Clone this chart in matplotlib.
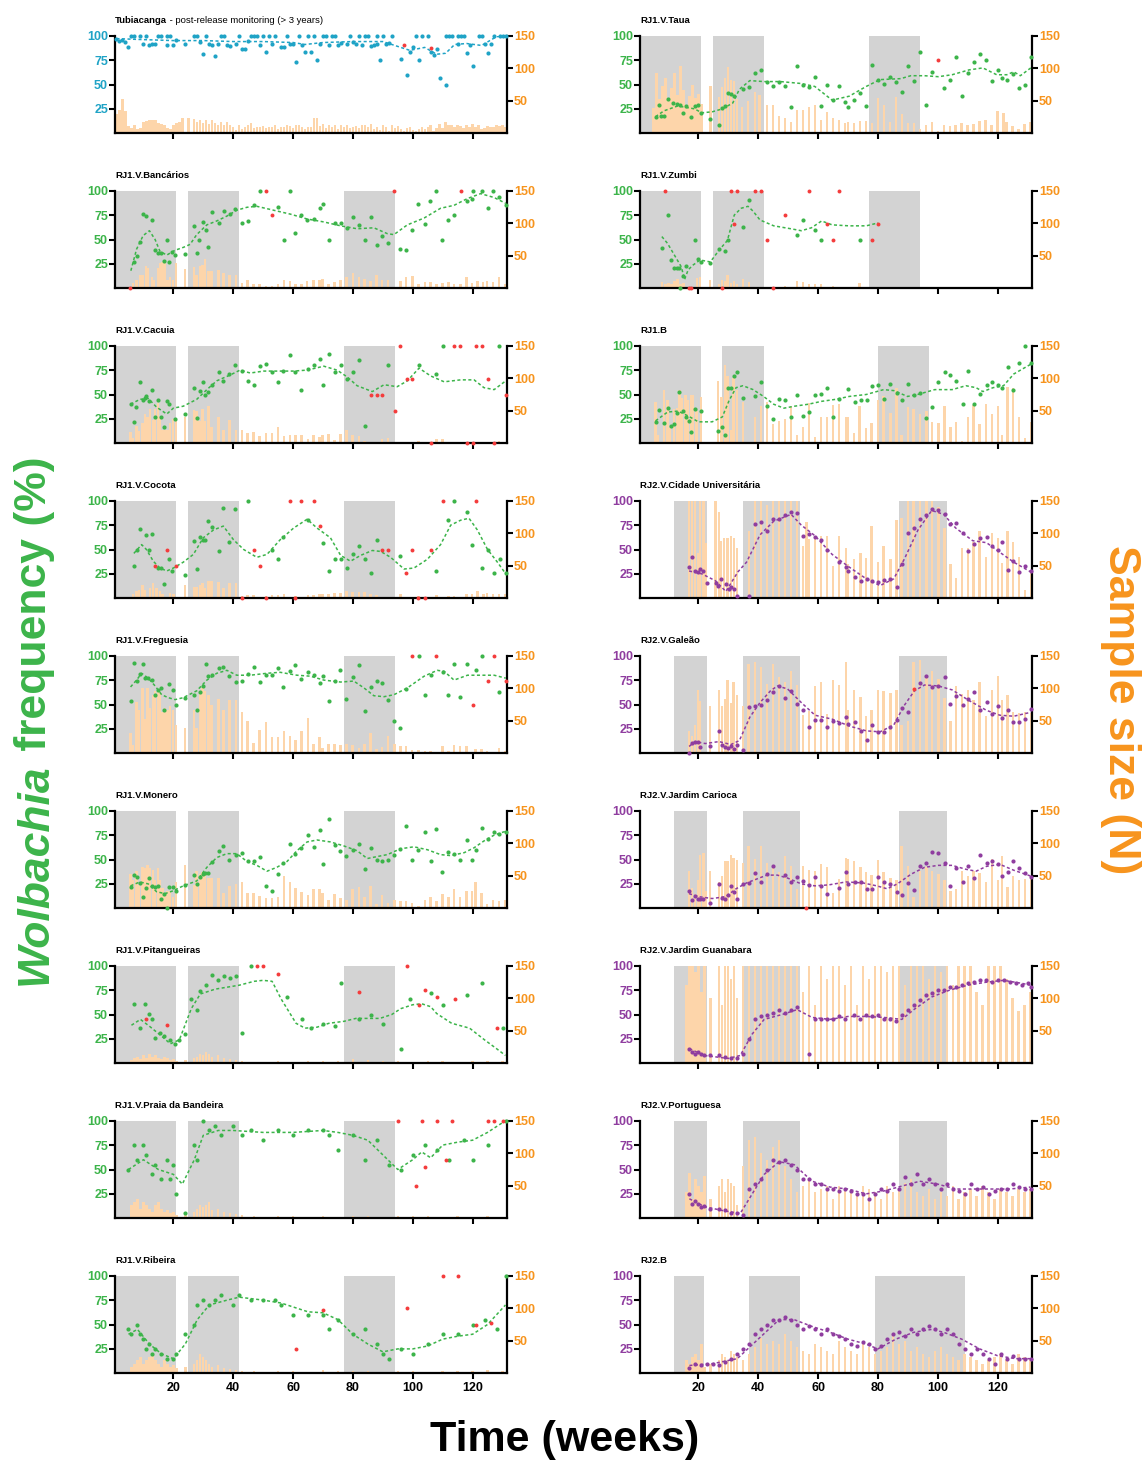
import matplotlib.pyplot as plt

plt.rcParams['font.family'] = ['Liberation Sans', 'DejaVu Sans']

# ---------------- data (weeks, Wolbachia %, sample size N) ----------------
# Tubiacanga
tub_wk = [1,2,3,4,5,6,7,9,10,11,12,13,14,15,16,18,18,19,20,21,24,27,28,29,30,31,32,33,34,35,
          36,37,38,39,41,42,43,44,45,46,47,48,49,50,51,52,53,54,56,57,58,59,60,61,62,63,64,65,66,67,
          68,69,70,71,72,73,74,75,76,78,79,80,81,82,83,84,85,86,87,88,88,89,90,91,92,93,96,98,99,100,
          101,102,103,105,106,107,108,109,111,111,112,113,115,115,116,117,118,119,120,122,123,124,125,126,127,129,130,131]
tub_freq = [97,95,96,94,88,100,100,100,92,100,90,91,92,100,100,100,90,100,90,96,91,100,100,94,81,100,92,90,79,92,
            100,100,90,89,92,100,86,86,95,100,100,100,90,100,83,100,92,100,88,88,100,92,92,73,100,90,83,100,83,100,
            75,91,100,100,90,100,100,90,93,91,100,94,92,100,90,100,100,89,90,100,92,75,100,92,93,100,76,60,83,88,
            100,75,100,100,83,80,86,57,100,50,100,100,100,92,100,100,82,90,69,100,100,91,82,92,100,100,100,100]
tub_red_wk = [97, 106]
tub_red_freq = [90, 87]
tub_bar_wk = list(range(1, 132))
tub_n = [29,36,53,34,11,8,13,6,8,18, 19,20,21,21,16,15,12,8,6,13, 16,18,24,0,23,0,22,18,20,16,
         20,14,21,16,12,18,13,17,13,9, 5,12,6,9,13,16,8,10,9,11, 8,10,9,12,7,9,10,12,11,8,
         13,12,9,7,10,9,24,23,11,15, 8,13,9,12,6,13,10,12,8,9, 11,8,12,13,9,14,7,10,5,12,
         9,4,13,8,11,6,3,8,10,5, 4,6,9,7,10,12,3,8,14,8, 17,13,12,10,13,11,8,12,10,15,
         9,12,7,8,11,10,10,12,11,12,10]
tub_fit_wk = [1,10,20,30,40,50,60,64,70,80,90,96,99,104,108,111,114,118,123,128,131]
tub_fit = [97,96,95,95,94,94,93,91,93,94,94,88,85,88,81,82,91,92,90,99,100]

# RJ1.V.Taua
taua_wk = [6,7,7.5,8.5,10,11.5,13,14,15,16,17.5,19,20,21,24,27,28,29,30,31,32,35,37,39,41,43,45,47,49,51,
           53,55,57,59,61,63,65,67,69,70,72,74,76,78,80,82,84,86,88,90,92,94,96,98,102,104,106,108,110,112,
           114,116,118,120,121.5,123,125,127,129,131]
taua_freq = [17,29,18,18,35,31,30,29,21,28,17,28,29,21,15,8,26,28,41,40,38,45,47,62,65,53,48,53,48,27,
             69,49,47,58,28,50,34,48,32,27,34,41,28,70,55,51,58,53,42,69,54,83,29,63,46,55,78,38,62,73,
             81,75,54,65,57,55,61,46,50,78]
taua_red_wk = [100]
taua_red_freq = [75]
taua_bar_wk = [5,6,7,8,9,10,11,12,13,14,15,16,17,18,19,20,21,24,27,28,29,30,31,32,33,
               34.5,36.5,39,40.5,43,45,47,49,51,53,55,57,59,61,63,65,67,69,70,72,74,76,78,80,82,84,86,88,90,92,
               94,96,98,100,102,104,106,108,110,112,114,116,118,120,122,123,125,127,129,131]
taua_n = [39,93,52,72,85,54,69,92,59,104,67,42,57,75,54,60,45,72,56,71,85,102,82,80,52,
          41,49,64,59,44,44,27,23,18,36,36,41,43,21,33,23,21,16,18,16,19,19,16,54,44,18,56,30,16,16,
          6,13,18,3,12,11,12,16,12,14,19,21,13,35,31,17,11,7,14,17]
taua_fit_wk = [5.7,8.5,13.1,18.8,21.1,24.6,28,31.5,33.7,37.2,41.8,47.5,54.4,58.9,64.7,70.4,76.1,80.7,87.6,91,
               95.6,100.2,104.8,110.5,115.1,119.7,123.1,125.4,127.6,131.1]
taua_fit = [17,23,28,25,21,22,25,31,45,54,53,53,51,48,34,38,48,55,56,59,59,58,60,65,67,60,60,63,59,67]

# RJ1.V.Bancarios
bk_wk = [6.8,7.7,8.8,9.7,10.8,12.8,13.9,15,15.8,16.9,17.8,18.7,19.4,20.6,23.9,26.9,27.8,28.7,29.8,31,
         31.7,32.9,35.1,36.8,38.8,40.7,42.9,44.8,46.8,48.8,55,56.9,58.9,60.8,62.8,64.8,67,68.9,69.9,71.9,
         73.9,75.9,77.9,80,82,83.9,85.9,87.9,89.8,91.8,95.9,97.8,99.9,101.9,104.1,105.9,107.8,109.9,111.9,113.8,
         118,119.9,120,123,125,126.9,128.9,131]
bk_freq = [27,33,47,76,74,70,39,36,36,28,50,27,37,34,35,64,36,49,68,60,42,78,67,79,76,81,67,69,85,100,
           83,50,100,57,75,70,71,82,86,50,67,67,62,73,65,50,73,44,54,46,40,39,60,86,66,89,100,50,70,75,
           89,91,100,100,82,100,94,85]
bk_red_wk = [5.5,51,53,93.9,116]
bk_red_freq = [0,100,75,100,100]
bk_bar_wk = [6.5,7.7,8.8,9.7,10.8,11.6,12.8,13.6,14.8,15.6,16.4,17.2,18,18.9,19.8,20.9,23.9,26.9,27.8,28.9,
             29.7,30.6,31.7,32.8,35.1,36.8,38.8,40.9,42.9,44.8,46.8,48.8,51,53,55,56.9,58.9,60.8,62.8,64.7,
             66.9,68.9,69.9,71.9,73.9,75.8,77.8,80,82,83.9,85.9,87.9,89.8,91.8,95.9,97.8,99.9,101.9,104.1,106,
             107.9,109.9,111.9,113.8,116,118,119.9,121.6,123.5,124.9,126.9,128.9,131]
bk_n = [8,13,21,21,34,31,18,13,31,39,41,39,13,18,13,39,29,32,21,34,36,45,27,27,28,23,21,21,8,12,
        7,7,3,3,7,13,11,7,7,11,13,12,14,6,10,12,17,24,17,14,11,21,12,12,11,18,19,7,10,10,
        6,8,10,7,6,17,8,11,10,11,10,17,7]
bk_fit_wk = [5.8,7.7,9.9,12,13.9,15.5,17.8,19.4,20.6,23.4,25.6,27.8,31.2,34.5,37.9,41.2,44.6,47.9,53.5,59.1,
             64.7,70.3,75.9,81.4,87,91.5,93.7,98.2,103.8,109.3,113.8,118.3,122.7,127.2,131.1]
bk_fit = [18,40,54,59,50,38,34,37,39,42,45,55,65,69,74,80,83,84,80,76,71,68,64,61,62,56,55,65,72,82,85,92,97,93,87]

# RJ1.V.Zumbi
zb_wk = [7.8,9.9,10.9,11.8,12.8,13.7,14.9,15.8,14,18.9,20,21,23.8,26.9,29,29.8,34.9,36.9,53,55,59,61,73.9]
zb_freq = [41,75,29,21,21,21,13,23,0,50,30,27,26,40,38,50,63,90,55,70,60,50,50]
zb_red_wk = [8.9,16.8,17.7,28,30.9,31.8,33,38.9,40.8,42.9,45,48.9,57,63,65,67,77.9,79.9]
zb_red_freq = [100,0,0,0,100,66,100,100,100,50,0,75,100,66,50,100,50,66]
zb_bar_wk = [7.8,9,10,11,12,13,14,15,19.5,20.6,23.8,26.9,28,29,29.8,31,32,33,35,37,48.9,53,55,57,59,61,65,73.9]
zb_n = [10,7,8,7,11,15,7,8,16,17,12,7,13,11,20,8,11,7,15,10,3,11,10,7,7,6,4,8]
zb_fit_wk = [7.8,9.7,12,14.3,15.4,16.6,18.3,20.6,24,26.9,29.7,32,34.3,36.6,38.3,40.6,45.2,50.9,54.4,57.8,
             61.2,64.7,70.4,76.1,80.1]
zb_fit = [53,46,34,22,9,19,24,29,27,39,49,75,82,84,79,70,64,61,59,62,69,65,64,64,67]

# RJ1.V.Cacuia
cc_wk = [5.7,6.8,7.6,8.8,9.7,10.5,11,12,12.7,13.9,15,15.8,16.9,17.8,18.7,20.6,23.9,27.8,26.9,28.9,
         29.8,30.6,31.7,32.8,35.1,36.7,38.7,40.7,42.9,44.8,46.8,48.8,50.9,53,55,56.8,58.9,60.8,62.8,65,
         67,70,69,71.9,73.9,75.9,77.9,80,82,83.9,91.8,102,107.9,110,128.9]
cc_freq = [40,22,37,63,44,46,48,43,55,27,44,27,17,43,40,25,30,26,57,54,63,50,53,60,73,64,71,80,74,64,
           60,79,81,73,63,74,90,73,55,76,80,60,86,91,73,80,66,73,85,18,80,80,71,100,100]
cc_red_wk = [86,87.9,89.8,94,95.9,98,99.9,106,113.8,115.8,118,120,121,123,125,127,131]
cc_red_freq = [50,50,50,33,100,66,66,0,100,100,0,0,100,100,66,0,50]
cc_bar_wk = [5.7,6.6,7.7,8.6,9.7,10.5,11.3,12.2,13.1,13.9,14.8,15.5,16.4,17.3,18,18.9,19.8,20.9,23.9,26.9,
             27.8,28.7,29.7,30.6,31.7,32.8,35.1,36.7,38.8,40.9,42.9,44.8,46.8,48.8,50.9,52.9,54.9,56.9,58.9,60.8,
             62.8,64.9,66.9,68.9,69.9,71.9,73.9,75.8,77.8,79.9,82,83.9,85.9,87.9,89.8,91.8,101.9,107.9,109.9,128.9]
cc_n = [18,8,26,19,31,45,41,52,36,52,62,41,21,21,21,31,37,34,41,51,50,34,52,34,58,25,41,21,36,21,
        21,16,18,11,16,16,25,11,12,13,12,6,13,10,12,14,5,14,21,12,11,4,2,2,6,8,4,6,6,4]
cc_fit_wk = [5.7,8.8,11.6,14.4,17.8,20,23.3,27.8,31.2,34.5,39,42.3,45.7,50.2,55.7,60.2,64.7,70.3,74.7,78.1,
             81.4,86.5,90.4,94.8,98.2,102.1,106,110.5,116,120.5,123.8,127.2,131.1]
cc_fit = [40,45,46,37,30,36,38,45,55,64,70,75,72,74,74,74,75,79,75,68,59,53,60,58,64,77,69,63,65,65,57,55,64]

# RJ1.B
b1_wk = [5.7,6.9,8.6,9.7,10.7,11.8,13,13.7,14.9,16,16.9,17.7,18.9,21,26.7,27.8,29,29.8,30.9,31.8,
         33,34.9,38.9,40.8,42.9,45,47,48.9,51,53,55,56.9,59,61,63,65,67,70,72.2,74.2,
         76.2,77.9,80.2,81.9,84.2,86.3,88,90.1,92,94.2,96.2,98.2,100.2,102.3,104.2,106.2,108.3,110.2,112,114,
         116.3,118.2,120.3,121.4,123.4,125.2,127.1,129.2,131.2]
b1_freq = [22,34,21,36,18,20,31,53,33,27,23,12,35,33,13,17,8,57,57,69,73,46,48,63,38,25,45,44,27,50,
           28,32,50,51,57,27,45,56,42,44,44,59,60,45,61,52,44,61,50,52,26,37,63,73,70,64,40,74,40,51,
           60,63,60,57,78,55,82,100,82]
b1_red_wk = []
b1_red_freq = []
b1_bar_wk = [5.7,6.6,8.5,9.7,10.6,11.8,12.8,13.7,14.5,15.7,16.6,17.5,18.3,19.4,20.9,26.6,27.8,28.9,29.7,30.9,
             31.8,33,34.9,38.9,40.9,42.9,45,46.9,48.9,50.9,53,54.9,56.9,58.9,60.9,63,64.9,67,69.3,70,
             72.1,73.8,76.1,77.9,80.1,81.9,84.2,86.2,87.9,90.1,91.9,94.1,96.2,98.1,100.2,102.2,104.2,106.1,108.2,110.1,
             112,114,116.2,118.2,120.2,121.4,123.3,125.2,127.1,129.2,131.1]
b1_n = [64,12,82,67,23,52,54,82,69,75,67,75,75,49,71,96,71,120,104,21,101,82,63,40,57,64,29,35,38,58,
        12,25,62,10,40,40,59,61,40,40,16,57,23,31,67,72,47,85,12,56,53,45,49,32,31,58,25,33,4,41,
        59,29,60,45,57,13,86,85,40,8,32]
b1_fit_wk = [5.7,9.7,13.2,16.6,20,24.6,28,30.3,32.6,34.9,38.3,41.8,45.2,48.6,52.1,56.7,61.2,65.8,70.4,76.1,
             81.9,85.3,89.9,93.3,99,104.8,109.4,112.8,115.1,118.5,122,125.4,128.8,131.1]
b1_fit = [23,32,33,28,22,22,27,44,57,59,55,48,40,36,38,40,43,45,48,50,55,54,48,50,55,55,59,57,53,57,59,71,77,81]

# RJ1.V.Cocota
co_wk = [6.8,7.7,8.8,10.8,12.7,12,15,15.8,16.9,18.7,19.4,23.9,26.9,27.8,28.9,29.8,30.6,31.7,32.8,35.1,
         36.7,38.7,40.7,44.8,53,55,56.8,65,69.9,72,73.9,75.9,77.9,80,82,83.9,85.9,87.9,95.9,107.9,
         111.9,113.8,118,119.9,123,125,127,129,131]
co_freq = [33,50,71,65,66,50,31,31,15,40,28,24,59,30,63,60,60,79,73,48,93,58,92,100,50,40,63,80,57,28,
           40,40,31,45,54,40,26,60,43,28,80,100,88,55,31,50,26,40,26]
co_red_wk = [13.9,17.8,20.9,46.8,48.8,58.9,62.8,66.9,68.9,89.8,91.8,97.8,99.8,106,110,121,42.9,50.9,60.7,101.9,104.1]
co_red_freq = [33,50,33,50,33,100,100,100,74,50,50,26,50,50,100,100,0,0,0,0,0]
co_bar_wk = [6.6,7.7,8.6,9.7,10.5,12.2,13.3,14.4,15.5,16.4,18.9,20,23.9,26.9,27.8,28.9,29.7,30.6,31.7,32.8,
             35.1,36.7,38.8,40.9,42.9,44.8,46.8,50.9,52.9,54.9,56.9,60.8,64.9,66.9,68.9,69.9,71.9,73.9,75.8,77.8,
             79.9,82,83.9,85.9,87.9,95.9,101.9,107.9,109.9,111.9,113.8,118,119.9,121.6,123.6,124.9,126.9,128.9,131]
co_n = [7,11,13,21,13,16,24,16,11,6,8,6,21,17,18,21,24,16,27,27,25,16,24,24,3,5,5,3,5,5,
        7,3,5,5,7,7,6,8,8,11,9,10,9,7,5,6,3,5,2,4,4,7,7,11,7,8,6,6,7]
co_fit_wk = [6.8,9.4,11,13.3,15.5,17.8,20,23.3,26.7,30,33.4,36.7,40.1,43.5,47.9,51.3,55.7,60.2,64.7,68,
             72.5,75.9,79.2,82.6,86.5,89.3,92.6,97.1,100.4,104.9,109.3,112.7,116,118.8,121.6,125,128.3,131.1]
co_fit = [46,55,50,38,31,28,31,37,45,62,70,74,60,50,42,45,60,72,81,72,62,44,38,44,49,48,42,30,31,40,55,75,80,82,70,50,37,25]

# RJ2.V.Cidade Universitaria
cu_wk = [17,18,18.9,19.8,20.6,21.7,22.9,25.8,26.7,27.5,29.2,30.1,30.9,32,33,37,38.9,40.8,42.9,45,
         47,48.9,50.9,53,54.9,56.9,59,60.9,62.9,67,69.3,70.1,72.2,74.2,76.2,77.9,80.2,81.9,84.2,86.3,
         88,90.1,92,94.2,96.2,98.2,100.2,102.3,104.2,106.2,108.3,110.2,112,114,116.3,118.2,120.3,121.4,123.4,125.2,
         127.1,129.2,131.2]
cu_freq = [32,42,28,27,30,28,16,16,13,20,15,10,12,10,2,2,76,78,69,81,81,85,88,87,64,66,63,60,49,37,
           32,28,22,18,20,18,17,19,20,12,35,67,72,81,85,91,90,86,76,77,67,48,56,62,63,54,50,58,29,38,
           27,33,28]
cu_red_wk = []
cu_red_freq = []
cu_bar_wk = [16.9,17.9,18.9,19.8,20.6,21.7,22.6,25.7,26.9,27.5,28.6,29.7,30.9,32,32.9,36.9,38.9,40.9,42.9,45,
             46.9,48.9,50.9,53,54.9,56.1,56.9,58.9,60.9,63,64.9,67,69.3,70,72.1,74.2,76.1,77.9,80.1,81.9,
             84.2,86.2,87.9,90.1,91.9,94.1,96.2,98.1,100.2,102.2,104.2,106.1,108.2,110.1,112,114,116.2,118.2,120.2,121.4,
             123.3,125.2,127.1,129.2,131.1]
cu_n = [160,160,160,69,160,160,85,160,133,88,92,93,96,92,78,104,160,160,143,160,160,160,160,160,80,118,91,95,95,95,
        50,96,77,52,61,69,62,111,56,81,60,121,123,160,160,160,160,160,141,108,52,31,78,77,87,103,64,101,92,54,
        103,87,64,13,41]
cu_fit_wk = [16.9,21.2,25.7,29.2,33.2,36.1,40.6,45.2,51,54.4,59,64.7,70.4,76.1,80.7,85.3,88.8,93.4,98,102,
             106,111.7,116.3,120.8,125.4,131.1]
cu_fit = [28,25,18,7,27,37,65,79,86,75,64,45,32,20,13,20,40,70,90,86,72,59,57,47,37,27]

# RJ1.V.Freguesia
fr_wk = [5.7,6.8,7.7,8.8,9.7,10.5,11.6,12.7,13.9,15,15.8,16.9,18.7,19.8,20.9,23.9,26.9,27.8,28.9,29.8,
         30.8,31.7,32.8,35.1,36.7,38.7,40.9,42.9,44.8,46.8,48.8,50.9,52.9,54.9,56.8,58.9,60.8,62.8,64.9,66.9,
         68.9,69.9,71.9,73.9,75.8,77.8,79.9,82,83.9,85.9,87.9,89.8,91.8,93.9,95.9,97.8,102,104.1,106,110,
         111.9,113.8,115.8,118,121,123,128.9]
fr_freq = [54,93,74,81,91,77,77,75,60,65,67,44,71,65,49,57,60,44,63,69,91,79,80,87,88,79,73,74,81,88,
           73,80,80,87,68,84,90,76,83,80,72,79,54,74,85,56,78,90,43,68,74,72,55,33,26,66,100,60,80,83,
           60,92,58,91,85,100,63]
fr_red_wk = [99.8,107.9,120,125,127,131]
fr_red_freq = [100,100,50,74,100,74]
fr_bar_wk = [5.7,6.6,7.7,8.6,9.7,10.5,11.3,12.2,13.1,13.9,14.8,15.5,16.4,17.2,18,18.9,19.8,20.9,23.9,26.9,
             27.8,28.9,29.7,30.6,31.7,32.8,35.1,36.7,38.8,40.9,42.9,44.8,46.8,48.8,50.9,52.9,54.9,56.9,58.9,60.8,
             62.8,64.9,66.9,68.9,69.9,71.9,73.9,75.8,77.8,79.9,82,83.9,85.9,87.9,89.8,91.8,93.9,95.9,97.8,99.8,
             101.9,104.1,106,109.9,111.9,113.8,115.8,118,121,123,124.9,128.9,131]
fr_n = [31,13,79,67,100,52,100,69,90,95,94,94,64,69,67,72,67,44,39,67,39,95,100,95,90,75,83,67,82,82,
        64,49,16,36,48,25,25,34,26,21,34,54,15,25,8,14,14,13,15,12,8,14,31,6,10,26,14,11,11,5,
        5,3,3,11,3,12,11,11,6,6,3,8,3]
fr_fit_wk = [5.7,7.7,9.4,11.6,13.9,16.1,18.3,20.6,23.3,27.8,31.2,34.5,37.9,41.2,45.7,51.3,55.7,61.3,65.8,70.3,
             75.9,80.3,83.7,87,90.4,93.7,98.2,103.8,108.2,110.5,113.8,118.3,122.7,127.2,131.1]
fr_fit = [68,75,82,77,69,60,57,55,57,64,75,82,85,80,80,82,83,80,79,75,73,74,67,59,58,60,67,79,85,84,75,80,80,80,77]

# RJ2.V.Galeao
gl_wk = [17,18,18.9,19.8,20.6,23.8,26.9,28,29,29.8,30.9,31.8,33,34.9,36.9,38.9,40.8,42.9,45,47,
         48.9,51,53,55,56.9,59,60.9,63,65,67,69.3,70.1,72.2,74.2,76.2,77.9,80.2,81.9,84.2,86.3,
         88,90.1,94.2,96.2,98.2,100.2,102.3,104.2,106.2,108.3,110.2,112,114,116.3,118.2,120.3,121.4,123.4,125.2,127.1,
         129.2,131.2]
gl_freq = [0,11,12,12,6,7,23,8,6,5,7,4,9,3,47,48,49,55,63,69,57,64,51,44,27,34,34,27,33,31,
           37,30,32,23,14,29,22,22,27,34,46,42,72,79,68,69,78,51,59,49,56,63,44,53,40,48,36,44,32,32,
           35,45]
gl_red_wk = [92]
gl_red_freq = [66]
gl_bar_wk = [16.9,17.9,18.9,19.8,20.6,23.8,26.9,28,28.9,29.7,30.9,31.8,32.9,34.9,36.8,38.9,40.9,42.9,45,46.9,
             48.9,50.9,53,54.9,56.9,58.9,60.9,63,64.9,67,69.3,70,72.1,74.2,76.1,77.9,80.1,81.9,84.2,86.2,
             87.9,90.1,91.9,94.1,96.2,98.1,100.2,102.2,104.2,106.1,108.2,110.1,112,114,116.2,118.2,120.2,121.4,123.3,125.2,
             127.1,129.2,131.1]
gl_n = [35,27,44,98,80,73,97,72,83,113,78,109,90,73,138,140,132,107,138,118,109,126,105,59,65,104,109,60,112,105,
        140,67,97,86,58,67,98,95,92,98,43,50,141,143,120,126,114,85,50,103,91,98,82,110,58,97,119,82,90,63,
        62,63,62]
gl_fit_wk = [16.9,18.9,22.3,26.9,30.9,33.7,37.2,40.6,44.1,46.4,49.8,54.4,59,64.7,70.4,76.1,80.7,85.3,88.8,92.2,
             95.6,100.2,104.8,110.5,116.3,120.8,125.4,131.1]
gl_fit = [7,12,10,12,9,13,37,52,64,69,66,52,39,35,28,23,22,29,49,64,70,69,65,54,44,39,38,42]

# RJ1.V.Monero
mo_wk = [5.7,6.8,7.7,8.8,9.7,10.8,12,12.7,13.9,15,15.8,16.9,17.8,18.7,19.8,20.9,23.9,26.9,27.8,28.9,
         29.8,30.6,31.7,32.8,35.1,36.7,38.7,40.9,42.9,44.8,46.8,48.8,50.9,52.9,54.9,56.8,58.9,60.8,62.8,64.9,
         66.9,68.9,69.9,71.9,73.9,75.8,77.8,79.9,82,83.9,85.9,87.9,89.8,91.8,93.9,95.9,97.8,99.8,101.8,104.1,
         106,107.9,109.9,111.9,113.8,115.8,118,119.9,121,123,125,127,128.9,131]
mo_freq = [22,34,32,26,12,21,31,23,22,23,10,15,0,22,22,18,24,34,25,32,35,36,36,47,59,64,49,55,57,48,
           48,53,23,18,35,46,66,56,62,75,63,80,45,92,65,59,54,60,66,40,62,50,48,50,55,61,84,50,60,78,
           48,81,37,58,56,50,70,50,60,82,71,78,76,78]
mo_red_wk = []
mo_red_freq = []
mo_bar_wk = [5.7,6.6,7.7,8.6,9.7,10.5,11.3,12.2,13.1,13.9,14.8,15.5,16.4,17.3,18,18.9,19.8,20.9,23.9,26.9,
             27.8,28.9,29.7,30.6,31.7,32.8,35.1,36.7,38.8,40.9,42.9,44.8,46.8,48.8,50.9,52.9,54.9,56.9,58.9,60.8,
             62.8,64.9,66.9,68.9,69.9,71.9,73.9,75.8,77.8,79.9,82,83.9,85.9,87.9,89.8,91.8,93.9,95.9,97.8,99.8,
             101.9,104.1,106,107.9,109.9,111.9,113.8,115.8,118,119.9,121,123,124.9,126.9,128.9,131]
mo_n = [52,44,58,36,64,62,67,62,59,44,62,44,31,21,26,26,18,41,66,36,58,52,56,54,46,46,46,23,34,37,
        41,23,23,19,16,16,18,49,41,31,25,21,29,29,23,13,22,16,12,30,32,18,34,6,21,8,13,11,11,8,
        3,12,18,11,22,18,29,18,26,26,41,23,6,13,11,12]
mo_fit_wk = [5.7,8.8,11.6,14.4,17.2,20,23.3,27.8,31.2,34.5,37.9,41.2,44.6,47.9,51.3,54.6,58,61.3,64.7,68,
             72.5,76.9,81.4,84.8,88.1,91.5,95.9,100.4,104.9,109.3,112.7,117.2,120.5,123.8,127.2,131.1]
mo_fit = [23,27,25,17,15,18,23,28,42,52,56,56,48,44,38,42,48,59,68,70,68,64,59,51,53,55,61,63,60,55,54,57,62,69,75,79]

# RJ2.V.Jardim Carioca
jc_wk = [17,18,18.9,19.8,20.6,21.7,23.8,26.9,28,29,29.8,30.9,31.8,33,34.9,36.9,38.9,40.8,42.9,45,
         48.9,51,53,55,56.9,59,60.9,63,67,69.3,70.1,72.2,74.2,76.2,77.9,80.2,81.9,84.2,86.3,88,
         90.1,92,94.2,96.2,98.2,100.2,102.3,104.2,106.2,108.3,110.2,112,114,116.3,118.2,120.3,121.4,123.4,125.2,127.1,
         129.2,131.2]
jc_freq = [18,8,13,10,10,10,5,25,11,10,14,23,17,10,25,26,36,27,35,43,34,27,32,28,24,32,23,15,21,37,
           25,27,27,20,20,32,27,25,17,14,26,19,43,46,58,57,46,23,41,27,43,31,55,46,48,45,33,37,48,41,
           36,32]
jc_red_wk = [55.9]
jc_red_freq = [0]
jc_bar_wk = [16.9,17.9,18.9,19.8,20.6,21.7,22.6,23.8,26.9,28,28.9,29.7,30.9,31.8,32.9,34.9,36.8,38.9,40.9,42.9,
             45,46.9,48.9,50.9,53,54.9,56.9,58.9,60.9,63,64.9,67,69.3,70,72.1,74.2,76.1,77.9,80.1,81.9,
             84.2,86.2,87.9,90.1,91.9,94.1,96.2,98.1,100.2,102.2,104.2,106.1,108.2,110.1,112,114,116.2,118.2,120.2,121.4,
             123.3,125.2,127.1,129.2,131.1]
jc_n = [58,31,22,44,82,85,26,58,41,50,72,72,82,77,75,69,95,76,95,69,64,56,80,65,29,65,59,58,68,64,
        23,45,78,76,73,64,56,51,75,56,47,44,96,65,18,58,64,58,52,44,26,29,58,50,57,54,41,76,44,80,
        33,50,44,45,46]
jc_fit_wk = [16.9,20,24.6,29.2,32.6,36.1,39.5,42.9,46.4,49.8,54.4,59,63.6,69.3,75,79.6,83.1,86.5,91.1,95.6,
             100.2,104.8,109.4,112.8,116.3,120.8,125.4,131.1]
jc_fit = [15,12,10,12,20,26,30,34,34,31,25,23,24,27,26,23,20,25,35,42,44,44,40,38,43,45,39,33]

# RJ1.V.Pitangueiras
pi_wk = [7,9,10.5,12,13,14,15.5,17,19,20.5,22,24,26,28,29,31,33,35,37,39,41,43,46,
         58,63,66,70,74,76,82,86,90,96,99,106,110,118,123,130]
pi_freq = [61,36,61,51,45,26,31,28,24,20,24,30,66,55,74,80,90,85,89,87,89,31,100,
           68,45,36,40,38,82,45,50,40,15,66,72,60,70,82,36]
pi_red_wk = [11,18,48,50,55,82,98,102,104,108,114,128]
pi_red_freq = [45,39,100,100,92,73,100,60,75,68,66,36]
pi_bar_wk = [6,7,8,9,10,11,12,13,14,15,16,17,18,19,20,21,24,27,28,29,30,31,32,33,35,37,39,41,43,47,
             55,60,65,70,75,80,85,90,95,100,105,110,115,120,125,130]
pi_n = [5,8,10,6,12,8,14,10,12,8,6,10,8,5,6,4,5,8,10,15,12,18,14,10,12,8,6,5,3,2,
        3,2,3,4,3,6,5,4,3,2,3,3,2,3,4,3]
pi_fit_wk = [6,9,12,16,19,22,26,29,34,38,42,47,50,53,56,61,64,68,72,77,81,86,89,93,96,100,103,106,108,113,
             119,124,128,131]
pi_fit = [39,45,38,28,20,24,56,71,76,78,80,84,85,84,66,41,36,37,41,43,46,46,46,50,56,60,61,58,51,41,
          36,24,15,8]

# RJ1.V.Praia da Bandeira
pb_wk = [5,7,8,10,11,13,14,16,18,19,20,21,24,27,28,30,32,34,36,40,43,46,50,55,60,65,70,72,75,80,
         84,88,92,96,100,104,108,112,117,120,125,131]
pb_freq = [50,75,60,75,65,45,55,40,60,40,55,25,5,75,60,100,90,95,85,95,85,90,80,90,85,90,90,85,70,85,
           60,80,55,50,65,75,70,60,80,60,75,100]
pb_red_wk = [95,101,103,104,108,111,113,125,127,130]
pb_red_freq = [100,33,100,53,100,60,100,100,100,100]
pb_bar_wk = [6,7,8,9,10,11,12,13,14,15,16,17,18,19,20,21,24,27,28,29,30,31,32,33,35,37,39,41,43,47,
             55,60,65,70,75,80,85,90,95,100,105,110,115,120,125,130]
pb_n = [20,25,30,15,25,20,15,10,20,25,15,10,12,8,10,5,5,10,15,20,18,20,25,12,
        15,10,8,6,5,3,4,3,2,3,2,4,3,2,3,4,3,2,3,2,3,2]
pb_fit_wk = [5,10,15,20,23,27,30,35,40,50,60,70,75,80,85,90,95,100,103,106,110,115,120,125,131]
pb_fit = [50,60,50,45,35,60,85,90,90,88,88,90,88,85,80,65,50,60,68,62,75,78,80,88,100]

# RJ1.V.Ribeira
ri_wk = [5,6,8,9,10,11,12,13,14,16,18,20,21,24,27,28,30,32,34,36,40,42,46,50,54,56,60,65,70,72,
         75,80,84,88,90,92,96,100,105,110,115,120,124,128,131]
ri_freq = [45,40,50,40,35,25,30,20,25,20,15,15,20,40,50,70,75,70,75,80,70,80,75,75,75,70,60,60,60,45,
           55,40,45,30,20,15,25,20,30,40,40,50,55,45,100]
ri_red_wk = [61,70,98,110,115,121,126]
ri_red_freq = [25,65,67,100,100,50,52]
ri_bar_wk = [6,7,8,9,10,11,12,13,14,15,16,17,18,19,20,21,24,27,28,29,30,31,32,33,35,37,39,41,43,47,
             55,60,65,70,75,80,85,90,95,100,105,110,115,120,125,130]
ri_n = [10,15,20,25,15,20,25,30,20,15,10,20,15,10,12,8,10,15,20,30,25,20,15,10,
        12,8,6,5,4,3,4,3,2,5,3,4,3,2,4,3,2,3,4,3,5,4]
ri_fit_wk = [5,8,12,16,20,24,28,32,38,42,50,56,60,65,70,75,80,85,90,95,100,105,110,115,120,125,131]
ri_fit = [40,45,30,20,15,30,55,70,75,78,75,72,68,63,62,55,40,30,22,25,25,28,35,38,40,50,70]

# RJ2.V.Jardim Guanabara
jg_wk = [17,18,19,20,21,22,24,27,29,31,33,35,37,39,41,43,45,47,49,51,53,57,59,61,63,65,67,69,72,74,
         76,78,80,82,84,86,88,90,92,94,96,98,100,102,104,106,108,110,112,114,116,118,120,122,124,126,128,130,131]
jg_freq = [15,12,10,12,10,8,8,8,6,5,5,10,25,45,48,50,52,55,52,55,58,10,45,45,45,45,48,45,50,45,
           50,48,50,45,45,43,50,55,60,65,70,72,75,75,78,78,80,82,83,85,85,83,85,85,83,82,80,82,78]
jg_red_wk = []
jg_red_freq = []
jg_bar_wk = [16,17,18,19,20,21,22,24,27,28,29,30,31,32,33,35,37,39,41,43,45,47,49,51,53,55,57,59,61,63,
             65,67,69,71,73,75,77,79,81,83,85,87,89,91,93,95,97,99,101,103,105,107,109,111,113,115,117,119,121,123,
             125,127,129,131]
jg_n = [120,160,160,140,160,110,160,100,160,90,160,160,130,160,100,160,160,160,160,160,160,160,160,160,160,110,160,90,160,130,
        160,160,120,160,90,160,130,160,160,140,160,160,120,160,160,150,130,160,140,160,120,160,150,160,110,90,160,150,160,130,
        100,80,90,110]
jg_fit_wk = [17,22,30,34,38,42,48,53,58,64,70,76,82,88,92,98,104,110,116,122,128,131]
jg_fit = [15,8,5,8,30,45,50,55,47,45,48,48,47,45,55,68,75,80,83,85,82,80]

# RJ2.V.Portuguesa
pt_wk = [17,18,19,20,21,22,24,27,29,31,33,35,37,39,41,43,45,47,49,51,53,55,57,59,61,63,65,67,69,71,
         73,75,77,79,81,83,85,87,89,91,93,95,97,99,101,103,105,107,109,111,113,115,117,119,121,123,125,127,129,131]
pt_freq = [25,15,18,15,12,13,10,10,8,5,5,3,30,35,40,50,60,58,60,55,50,40,40,35,35,30,30,28,30,28,
           25,25,20,25,30,28,35,30,42,35,45,35,40,35,30,35,30,28,25,35,30,32,25,28,30,30,35,32,30,30]
pt_red_wk = []
pt_red_freq = []
pt_bar_wk = [16,17,18,19,20,21,22,24,27,28,29,30,31,32,33,35,37,39,41,43,45,47,49,51,53,55,57,59,61,63,
             65,67,69,71,73,75,77,79,81,83,85,87,89,91,93,95,97,99,101,103,105,107,109,111,113,115,117,119,121,123,
             125,127,129,131]
pt_n = [40,70,30,60,50,40,65,30,50,60,40,60,55,50,20,80,120,125,100,90,110,120,80,60,40,50,60,40,45,50,
        30,50,45,40,35,50,45,40,30,50,40,45,55,60,40,35,45,30,40,35,50,30,40,45,35,50,40,30,45,40,
        35,45,40,45]
pt_fit_wk = [17,22,28,34,38,42,47,52,58,64,70,76,82,88,94,100,106,112,118,124,131]
pt_fit = [20,12,8,5,25,45,58,55,38,32,30,25,28,33,38,35,30,30,30,30,32]

# RJ2.B
rb_wk = [17,19,21,23,25,27,29,31,33,35,37,39,41,43,45,47,49,51,53,55,57,59,61,63,65,67,69,71,73,75,
         77,79,81,83,85,87,89,91,93,95,97,99,101,103,105,107,109,111,113,115,117,119,121,123,125,127,129,131]
rb_freq = [5,10,8,10,10,8,12,15,20,25,30,40,45,50,55,55,58,55,50,45,48,45,40,45,40,38,35,30,28,32,
           30,25,28,35,40,42,38,45,40,45,48,45,40,45,40,30,25,20,25,20,15,10,20,15,18,15,15,15]
rb_red_wk = []
rb_red_freq = []
rb_bar_wk = [16,17,18,19,20,21,22,24,27,28,29,30,31,32,33,35,37,39,41,43,45,47,49,51,53,55,57,59,61,63,
             65,67,69,71,73,75,77,79,81,83,85,87,89,91,93,95,97,99,101,103,105,107,109,111,113,115,117,119,121,123,
             125,127,129,131]
rb_n = [20,15,25,30,20,45,10,15,20,30,25,20,35,30,25,20,30,40,55,45,50,45,60,50,40,35,30,45,40,35,
        30,50,40,35,30,45,40,30,35,40,60,45,50,35,40,30,25,35,40,30,25,20,30,25,20,15,20,25,30,20,
        15,30,25,20]
rb_fit_wk = [17,25,33,40,47,52,58,64,70,76,80,86,92,98,102,108,114,120,126,131]
rb_fit = [8,10,15,35,55,55,48,42,35,30,25,35,42,45,42,35,25,18,15,15]

# shaded (release) periods, weeks
shade_rj1 = [(1, 21), (25, 42), (77, 94)]
shade_rj1b = [(1, 21), (28, 42), (80, 97)]
shade_rj2 = [(12, 23), (35, 54), (87, 103)]
shade_rj2b = [(12, 22), (37, 54), (79, 109)]

# ---------------- style ----------------
GREEN = '#3cb44a'
PURPLE = '#8f3d9f'
BLUE = '#1fa3c6'
RED = '#f43c3c'
ORANGE = '#f7941d'
BARC = '#fdd5aa'
SHADE = '#d3d3d3'

W, H = 1146, 1465
fig = plt.figure(figsize=(W / 100, H / 100), dpi=100)

panels = [
    ('Tubiacanga', 0, 0, BLUE, [], tub_wk, tub_freq, tub_red_wk, tub_red_freq, tub_bar_wk, tub_n, tub_fit_wk, tub_fit),
    ('RJ1.V.Taua', 1, 0, GREEN, shade_rj1, taua_wk, taua_freq, taua_red_wk, taua_red_freq, taua_bar_wk, taua_n, taua_fit_wk, taua_fit),
    ('RJ1.V.Bancários', 0, 1, GREEN, shade_rj1, bk_wk, bk_freq, bk_red_wk, bk_red_freq, bk_bar_wk, bk_n, bk_fit_wk, bk_fit),
    ('RJ1.V.Zumbi', 1, 1, GREEN, shade_rj1, zb_wk, zb_freq, zb_red_wk, zb_red_freq, zb_bar_wk, zb_n, zb_fit_wk, zb_fit),
    ('RJ1.V.Cacuia', 0, 2, GREEN, shade_rj1, cc_wk, cc_freq, cc_red_wk, cc_red_freq, cc_bar_wk, cc_n, cc_fit_wk, cc_fit),
    ('RJ1.B', 1, 2, GREEN, shade_rj1b, b1_wk, b1_freq, b1_red_wk, b1_red_freq, b1_bar_wk, b1_n, b1_fit_wk, b1_fit),
    ('RJ1.V.Cocota', 0, 3, GREEN, shade_rj1, co_wk, co_freq, co_red_wk, co_red_freq, co_bar_wk, co_n, co_fit_wk, co_fit),
    ('RJ2.V.Cidade Universitária', 1, 3, PURPLE, shade_rj2, cu_wk, cu_freq, cu_red_wk, cu_red_freq, cu_bar_wk, cu_n, cu_fit_wk, cu_fit),
    ('RJ1.V.Freguesia', 0, 4, GREEN, shade_rj1, fr_wk, fr_freq, fr_red_wk, fr_red_freq, fr_bar_wk, fr_n, fr_fit_wk, fr_fit),
    ('RJ2.V.Galeão', 1, 4, PURPLE, shade_rj2, gl_wk, gl_freq, gl_red_wk, gl_red_freq, gl_bar_wk, gl_n, gl_fit_wk, gl_fit),
    ('RJ1.V.Monero', 0, 5, GREEN, shade_rj1, mo_wk, mo_freq, mo_red_wk, mo_red_freq, mo_bar_wk, mo_n, mo_fit_wk, mo_fit),
    ('RJ2.V.Jardim Carioca', 1, 5, PURPLE, shade_rj2, jc_wk, jc_freq, jc_red_wk, jc_red_freq, jc_bar_wk, jc_n, jc_fit_wk, jc_fit),
    ('RJ1.V.Pitangueiras', 0, 6, GREEN, shade_rj1, pi_wk, pi_freq, pi_red_wk, pi_red_freq, pi_bar_wk, pi_n, pi_fit_wk, pi_fit),
    ('RJ2.V.Jardim Guanabara', 1, 6, PURPLE, shade_rj2, jg_wk, jg_freq, jg_red_wk, jg_red_freq, jg_bar_wk, jg_n, jg_fit_wk, jg_fit),
    ('RJ1.V.Praia da Bandeira', 0, 7, GREEN, shade_rj1, pb_wk, pb_freq, pb_red_wk, pb_red_freq, pb_bar_wk, pb_n, pb_fit_wk, pb_fit),
    ('RJ2.V.Portuguesa', 1, 7, PURPLE, shade_rj2, pt_wk, pt_freq, pt_red_wk, pt_red_freq, pt_bar_wk, pt_n, pt_fit_wk, pt_fit),
    ('RJ1.V.Ribeira', 0, 8, GREEN, shade_rj1, ri_wk, ri_freq, ri_red_wk, ri_red_freq, ri_bar_wk, ri_n, ri_fit_wk, ri_fit),
    ('RJ2.B', 1, 8, PURPLE, shade_rj2b, rb_wk, rb_freq, rb_red_wk, rb_red_freq, rb_bar_wk, rb_n, rb_fit_wk, rb_fit),
]

for (title, col, row, color, shade, wk, freq, rwk, rfreq, bwk, n, fwk, fit) in panels:
    x0 = 115 if col == 0 else 640
    top = 35.7 + 155 * row
    ax = fig.add_axes([x0 / W, 1 - (top + 97.6) / H, 392 / W, 97.6 / H])
    ax2 = ax.twinx()
    ax.set_zorder(ax2.get_zorder() + 1)
    ax.patch.set_visible(False)

    # sample size bars + release periods on the right axis
    for a, b in shade:
        ax2.axvspan(a, b, color=SHADE, lw=0, zorder=0)
    ax2.bar(bwk, n, width=0.8, color=BARC, lw=0, zorder=1)
    ax2.set_ylim(0, 150)
    ax2.set_yticks([50, 100, 150])

    # frequency points + trend
    ax.plot(fwk, fit, ls=(0, (2.0, 1.6)), lw=1.1, color=color, zorder=2)
    ax.scatter(wk, freq, s=9, color=color, lw=0, zorder=3, clip_on=False)
    ax.scatter(rwk, rfreq, s=8, color=RED, lw=0, zorder=3, clip_on=False)
    ax.set_ylim(0, 100)
    ax.set_yticks([25, 50, 75, 100])
    ax.set_xlim(0.5, 131.5)
    ax.set_xticks([20, 40, 60, 80, 100, 120])

    for s in ['top', 'right']:
        ax.spines[s].set_visible(False)
    for s in ['top', 'left', 'bottom']:
        ax2.spines[s].set_visible(False)
    ax.spines['left'].set_linewidth(1.6)
    ax.spines['bottom'].set_linewidth(1.6)
    ax2.spines['right'].set_linewidth(1.6)

    ax.tick_params(axis='y', length=4, width=1.5, labelsize=9, labelcolor=color, pad=1)
    ax.tick_params(axis='x', length=4, width=1.5, labelsize=9, pad=2, labelbottom=(row == 8))
    ax2.tick_params(axis='y', length=4, width=1.5, labelsize=9, labelcolor=ORANGE, pad=1)
    for lab in ax.get_yticklabels() + ax.get_xticklabels() + ax2.get_yticklabels():
        lab.set_fontweight('bold')

    t = ax.text(0.0, 1.16, title, transform=ax.transAxes, fontsize=6.8,
                fontweight='bold', ha='left', va='center')
    if row == 0 and col == 0:
        ax.annotate(' - post-release monitoring (> 3 years)', xy=(1, 0.5), xycoords=t,
                    fontsize=6.8, ha='left', va='center')

# axis titles
t1 = fig.text(35 / W, 1 - 985 / H, 'Wolbachia', rotation=90, color=GREEN, fontsize=32,
              fontweight='bold', fontstyle='italic', ha='center', va='bottom')
plt.annotate(' frequency (%)', xy=(0.5, 1), xycoords=t1, rotation=90, color=GREEN,
             fontsize=32, fontweight='bold', ha='center', va='bottom', annotation_clip=False)
fig.text(1120 / W, 1 - 710 / H, 'Sample size (N)', rotation=-90, color=ORANGE, fontsize=32,
         fontweight='bold', ha='center', va='center')
fig.text(565 / W, 1 - 1440 / H, 'Time (weeks)', color='black', fontsize=31,
         fontweight='bold', ha='center', va='center')

fig.savefig('out.png', dpi=100)
